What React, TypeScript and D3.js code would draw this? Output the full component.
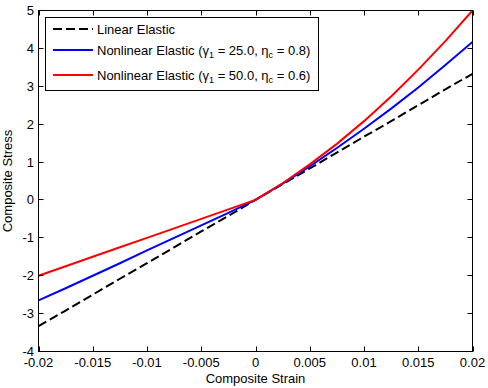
import React from "react";
import * as d3 from "d3";

const strain = [-0.02, -0.0175, -0.015, -0.0125, -0.01, -0.0075, -0.005, -0.0025, 0, 0.0025, 0.005, 0.0075, 0.01, 0.0125, 0.015, 0.0175, 0.02];
const linearElastic = [-3.33, -2.92, -2.5, -2.08, -1.67, -1.25, -0.83, -0.42, 0, 0.42, 0.83, 1.25, 1.67, 2.08, 2.5, 2.92, 3.33];
const nonlinear25 = [-2.65, -2.33, -2.0, -1.67, -1.33, -1.0, -0.67, -0.34, 0, 0.43, 0.885, 1.37, 1.88, 2.41, 2.97, 3.56, 4.17];
const nonlinear50 = [-2.0, -1.75, -1.5, -1.25, -1.0, -0.75, -0.5, -0.25, 0, 0.44, 0.94, 1.48, 2.08, 2.73, 3.44, 4.19, 5.0];

const xTicks = [-0.02, -0.015, -0.01, -0.005, 0, 0.005, 0.01, 0.015, 0.02];
const xTickLabels = ["-0.02", "-0.015", "-0.01", "-0.005", "0", "0.005", "0.01", "0.015", "0.02"];
const yTicks = [-4, -3, -2, -1, 0, 1, 2, 3, 4, 5];

const FONT = "'Liberation Sans', Arial, Helvetica, sans-serif";

export default function App() {
  const L = 38.5, R = 472.5, T = 10.5, B = 351.5;
  const x = d3.scaleLinear().domain([-0.02, 0.02]).range([L, R]);
  const y = d3.scaleLinear().domain([-4, 5]).range([B, T]);
  const line = (vals: number[]) =>
    d3.line<number>().x((_, i) => x(strain[i])).y((v) => y(v))(vals) || "";

  const tickLen = 5;
  const fs = 13;

  return (
    <svg width={488} height={388} style={{ position: "absolute", left: 0, top: 0, background: "#fff" }} fontFamily={FONT}>
      <rect x={0} y={0} width={488} height={388} fill="#fff" />
      <defs>
        <clipPath id="plotclip">
          <rect x={L} y={T - 1} width={R - L} height={B - T + 2} />
        </clipPath>
      </defs>
      <g clipPath="url(#plotclip)" fill="none" strokeWidth={2}>
        <path d={line(linearElastic)} stroke="#000" strokeDasharray="9,4" />
        <path d={line(nonlinear25)} stroke="#0000ff" />
        <path d={line(nonlinear50)} stroke="#ff0000" />
      </g>
      {/* axes box */}
      <rect x={L} y={T} width={R - L} height={B - T} fill="none" stroke="#000" strokeWidth={1} />
      {/* x ticks */}
      {xTicks.map((t, i) => {
        const px = Math.round(x(t)) + 0.5;
        return (
          <g key={"x" + i}>
            <line x1={px} x2={px} y1={B} y2={B - tickLen} stroke="#000" />
            <line x1={px} x2={px} y1={T} y2={T + tickLen} stroke="#000" />
            <text x={x(t)} y={367} textAnchor="middle" fontSize={fs} fill="#000">{xTickLabels[i]}</text>
          </g>
        );
      })}
      {/* y ticks */}
      {yTicks.map((t, i) => {
        const py = Math.round(y(t) - 0.5) + 0.5;
        return (
          <g key={"y" + i}>
            <line x1={L} x2={L + tickLen} y1={py} y2={py} stroke="#000" />
            <line x1={R} x2={R - tickLen} y1={py} y2={py} stroke="#000" />
            <text x={34} y={y(t) + 4.5} textAnchor="end" fontSize={fs} fill="#000">{String(t)}</text>
          </g>
        );
      })}
      <text x={(L + R) / 2} y={383} textAnchor="middle" fontSize={fs} fill="#000">Composite Strain</text>
      <text transform={`translate(12,${(T + B) / 2}) rotate(-90)`} textAnchor="middle" fontSize={fs} fill="#000">Composite Stress</text>
      {/* legend */}
      <rect x={45.5} y={17.5} width={273} height={73} fill="#fff" stroke="#000" strokeWidth={1} />
      <line x1={53} x2={93} y1={29} y2={29} stroke="#000" strokeWidth={2} strokeDasharray="9,4" />
      <line x1={53} x2={93} y1={50} y2={50} stroke="#0000ff" strokeWidth={2} />
      <line x1={53} x2={93} y1={75} y2={75} stroke="#ff0000" strokeWidth={2} />
      <text x={97} y={34} fontSize={fs} fill="#000">Linear Elastic</text>
      <text x={97} y={55} fontSize={fs} fill="#000">
        Nonlinear Elastic (γ<tspan fontSize={9} dy={3}>1</tspan><tspan dy={-3}> = 25.0, η</tspan><tspan fontSize={9} dy={3}>c</tspan><tspan dy={-3}> = 0.8)</tspan>
      </text>
      <text x={97} y={80} fontSize={fs} fill="#000">
        Nonlinear Elastic (γ<tspan fontSize={9} dy={3}>1</tspan><tspan dy={-3}> = 50.0, η</tspan><tspan fontSize={9} dy={3}>c</tspan><tspan dy={-3}> = 0.6)</tspan>
      </text>
    </svg>
  );
}
